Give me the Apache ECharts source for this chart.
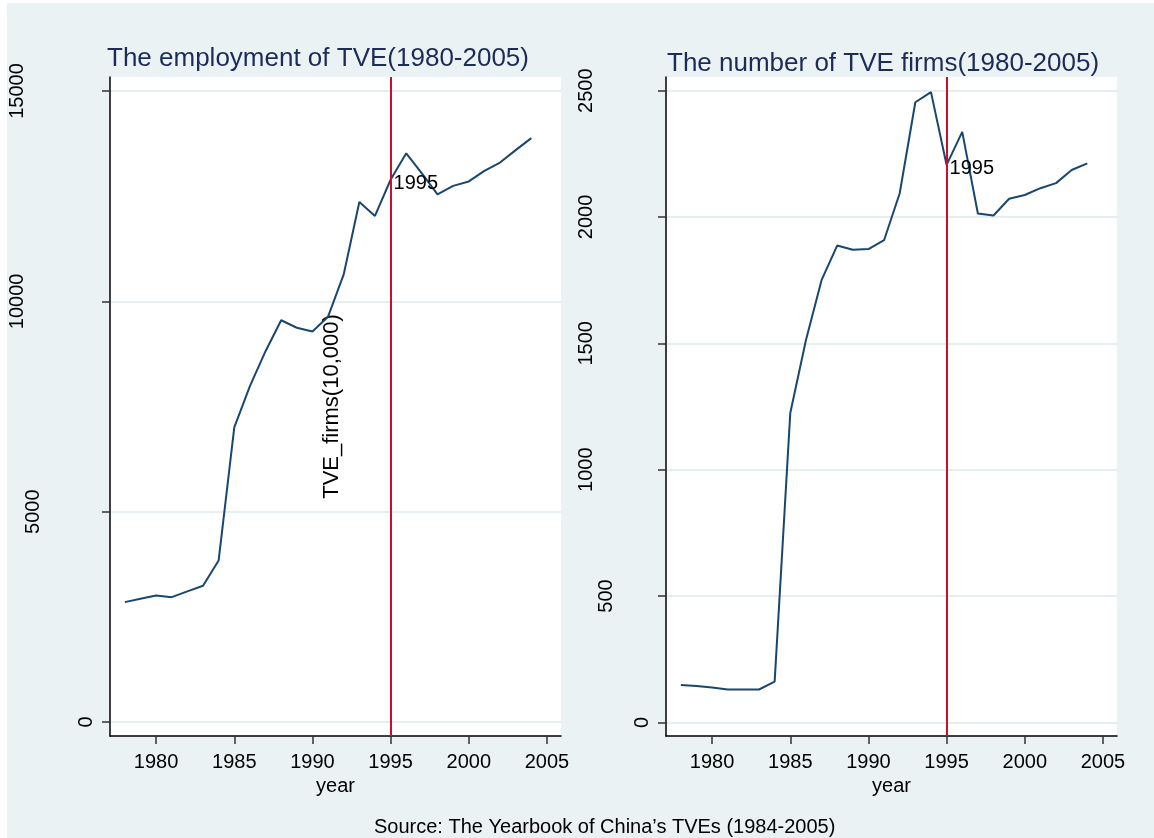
<!DOCTYPE html>
<html>
<head>
<meta charset="utf-8">
<script src="https://cdn.jsdelivr.net/npm/echarts@6/dist/echarts.min.js"></script>
<style>
  html, body { margin: 0; padding: 0; background: #fff; }
  #chart { width: 1154px; height: 838px; }
</style>
</head>
<body>
<div id="chart"></div>
<script>
// data (units: 10,000)
const years = [1978, 1979, 1980, 1981, 1982, 1983, 1984, 1985, 1986, 1987, 1988, 1989, 1990,
  1991, 1992, 1993, 1994, 1995, 1996, 1997, 1998, 1999, 2000, 2001, 2002, 2003, 2004];
const employment = [2850, 2930, 3005, 2968, 3105, 3238, 3840, 7005, 7985, 8815, 9550, 9372, 9285,
  9635, 10640, 12360, 12030, 12890, 13520, 13040, 12545, 12745, 12850, 13100, 13300, 13595, 13880];
const firms = [148, 144, 138, 130, 130, 130, 161, 1224, 1512, 1750, 1887, 1870, 1873,
  1908, 2094, 2454, 2494, 2206, 2337, 2014, 2006, 2072, 2087, 2114, 2134, 2186, 2212];

const xTicks = [1980, 1985, 1990, 1995, 2000, 2005];
const employmentTicks = [0, 5000, 10000, 15000];
const firmsTicks = [0, 500, 1000, 1500, 2000, 2500];
const markYear = 1995;

const titles = ['The employment of TVE(1980-2005)', 'The number of TVE firms(1980-2005)'];
const source = 'Source: The Yearbook of China\u2019s TVEs (1984-2005)';

const FONT = "'Liberation Sans', Arial, sans-serif";
const NAVY = '#1a476f';
const RED = '#c8102e';

const chart = echarts.init(document.getElementById('chart'));

// y labels in the picture sit further from the axis the longer they are
const richPad = (pads) => {
  const rich = {};
  Object.keys(pads).forEach(k => {
    rich['p' + k] = { fontSize: 20, fontFamily: FONT, color: '#000', padding: [0, 0, pads[k], 0] };
  });
  return rich;
};

const panels = [
  { left: 110, values: employment, ticks: employmentTicks, yMin: -333, yMax: 15333,
    pads: { 1: 0, 4: 53, 5: 69 }, name: 'TVE_firms(10,000)' },
  { left: 666, values: firms, ticks: firmsTicks, yMin: -54, yMax: 2554,
    pads: { 1: 0, 3: 36, 4: 56 }, name: '' },
];

const option = {
  backgroundColor: '#fff',
  animation: false,
  graphic: [{
    type: 'rect', z: -10, silent: true,
    shape: { x: 7, y: 3, width: 1147, height: 835 },
    style: { fill: '#eaf2f3' },
  }],
  title: [
    { text: titles[0], left: 107, top: 46, padding: 0,
      textStyle: { fontSize: 26, fontWeight: 'normal', color: '#1c2b57', fontFamily: FONT } },
    { text: titles[1], left: 667, top: 51, padding: 0,
      textStyle: { fontSize: 26, fontWeight: 'normal', color: '#1c2b57', fontFamily: FONT } },
    { text: source, left: 374, top: 817, padding: 0,
      textStyle: { fontSize: 20, fontWeight: 'normal', color: '#000', fontFamily: FONT } },
  ],
  grid: panels.map(p => ({
    left: p.left, top: 77, width: 451, height: 659,
    show: true, backgroundColor: '#fff', borderWidth: 0, containLabel: false,
  })),
  xAxis: panels.map((p, i) => ({
    type: 'value', gridIndex: i, min: 1977.05, max: 2005.9,
    name: 'year', nameLocation: 'middle', nameGap: 33,
    nameTextStyle: { fontSize: 20, color: '#000', fontFamily: FONT },
    axisLine: { show: true, onZero: false, lineStyle: { color: '#000', width: 1.5 } },
    axisTick: { show: true, length: 8, customValues: xTicks, lineStyle: { color: '#333', width: 1.5 } },
    axisLabel: { customValues: xTicks, margin: 16, fontSize: 20, color: '#000', fontFamily: FONT,
      formatter: v => String(v) },
    splitLine: { show: false },
  })),
  yAxis: panels.map((p, i) => ({
    type: 'value', gridIndex: i, min: p.yMin, max: p.yMax,
    name: p.name, nameLocation: 'middle', nameRotate: 90, nameGap: -233,
    nameTextStyle: { fontSize: 22, color: '#000', fontFamily: FONT },
    axisLine: { show: true, onZero: false, lineStyle: { color: '#000', width: 1.5 } },
    axisTick: { show: true, length: 8, customValues: p.ticks, lineStyle: { color: '#333', width: 1.5 } },
    axisLabel: {
      customValues: p.ticks, rotate: 90, margin: 14,
      formatter: v => `{p${String(v).length}|${v}}`,
      rich: richPad(p.pads),
    },
    splitLine: { show: true, lineStyle: { color: '#e6eef1', width: 2 } },
  })),
  series: panels.map((p, i) => ({
    type: 'line', xAxisIndex: i, yAxisIndex: i,
    data: years.map((y, k) => [y, p.values[k]]),
    showSymbol: false, symbol: 'none',
    lineStyle: { color: NAVY, width: 2 },
    silent: true,
    markLine: {
      silent: true, symbol: 'none', label: { show: false },
      lineStyle: { color: RED, width: 2, type: 'solid' },
      data: [{ xAxis: markYear }],
    },
    markPoint: {
      silent: true, symbol: 'circle', symbolSize: 0,
      label: { show: true, position: 'right', distance: 3, offset: [0, 4], formatter: String(markYear),
        fontSize: 20, color: '#000', fontFamily: FONT },
      data: [{ coord: [markYear, p.values[years.indexOf(markYear)]] }],
    },
  })),
};

chart.setOption(option);
</script>
</body>
</html>
